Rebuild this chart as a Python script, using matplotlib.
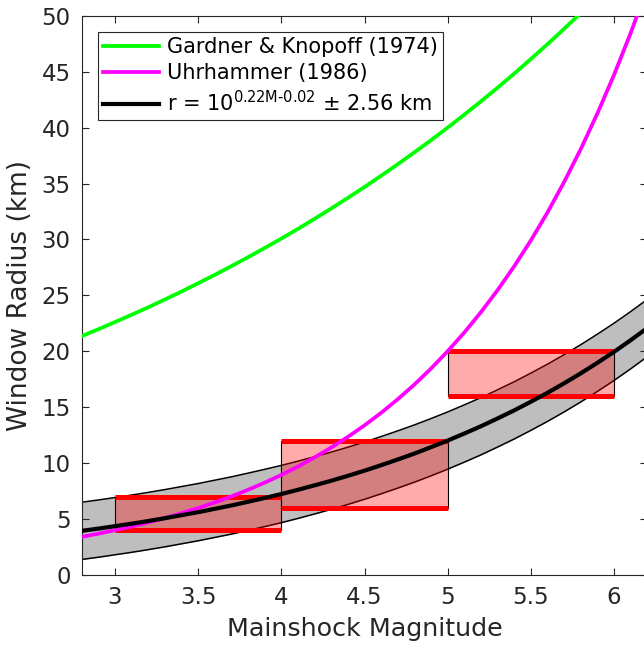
import numpy as np
import matplotlib
matplotlib.use("Agg")
import matplotlib.pyplot as plt
from matplotlib.patches import Rectangle

plt.rcParams['font.family'] = ['DejaVu Sans']
plt.rcParams['mathtext.fontset'] = 'dejavusans'

# magnitudes where the curves were read
mag = [2.8, 2.9, 3.0, 3.1, 3.2, 3.3, 3.4, 3.5, 3.6, 3.7, 3.8, 3.9, 4.0, 4.1, 4.2, 4.3,
       4.4, 4.5, 4.6, 4.7, 4.8, 4.9, 5.0, 5.1, 5.2, 5.3, 5.4, 5.5, 5.6, 5.7, 5.8, 5.9,
       6.0, 6.1, 6.2]

# Gardner & Knopoff (1974)
gk = [21.36, 21.98, 22.62, 23.27, 23.94, 24.64, 25.35, 26.09, 26.84, 27.62, 28.42,
      29.24, 30.08, 30.95, 31.85, 32.77, 33.72, 34.69, 35.70, 36.73, 37.79, 38.88,
      40.00, 41.16, 42.35, 43.57, 44.83, 46.13, 47.46, 48.83, 50.24, 51.70, 53.2,
      54.7, 56.3]

# Uhrhammer (1986)
uh = [3.41, 3.70, 4.01, 4.34, 4.71, 5.10, 5.53, 5.99, 6.49, 7.03, 7.62, 8.26, 8.95,
      9.70, 10.52, 11.40, 12.35, 13.38, 14.50, 15.72, 17.03, 18.46, 20.01, 21.68,
      23.50, 25.47, 27.60, 29.91, 32.41, 35.13, 38.07, 41.26, 44.70, 48.44, 52.50]

# fitted window radius
fit = [3.95, 4.15, 4.37, 4.59, 4.83, 5.08, 5.35, 5.62, 5.92, 6.22, 6.55, 6.89, 7.24,
       7.62, 8.02, 8.43, 8.87, 9.33, 9.82, 10.33, 10.86, 11.43, 12.02, 12.65, 13.30,
       14.00, 14.72, 15.49, 16.29, 17.14, 18.03, 18.97, 19.95, 20.99, 22.08]
fit_err = 2.56

# binned ranges (magnitude bin, radius range)
bin_lo = [3, 4, 5]
bin_hi = [4, 5, 6]
r_lo = [4, 6, 16]
r_hi = [7, 12, 20]

mag = np.array(mag)
fit = np.array(fit)

fig = plt.figure(figsize=(6.44, 6.45), dpi=100)
ax = fig.add_axes([0.127, 0.1085, 0.878, 0.867])

ax.fill_between(mag, fit - fit_err, fit + fit_err, color='#bebebe', lw=0, zorder=1)
ax.plot(mag, fit - fit_err, color='k', lw=1.1, zorder=2)
ax.plot(mag, fit + fit_err, color='k', lw=1.1, zorder=2)

for i in range(len(bin_lo)):
    ax.add_patch(Rectangle((bin_lo[i], r_lo[i]), bin_hi[i] - bin_lo[i], r_hi[i] - r_lo[i],
                           facecolor=(1, 0, 0, 0.33), edgecolor='k', lw=0.8, zorder=3))
    ax.plot([bin_lo[i], bin_hi[i]], [r_lo[i], r_lo[i]], color='r', lw=3.6, zorder=4,
            solid_capstyle='butt')
    ax.plot([bin_lo[i], bin_hi[i]], [r_hi[i], r_hi[i]], color='r', lw=3.6, zorder=4,
            solid_capstyle='butt')

ax.plot(mag, gk, color='#00ff00', lw=2.7, zorder=5, label='Gardner & Knopoff (1974)')
ax.plot(mag, uh, color='#ff00ff', lw=2.7, zorder=5, label='Uhrhammer (1986)')
ax.plot(mag, fit, color='k', lw=3, zorder=6,
        label=r'r = 10$^{\mathregular{0.22M\text{-}0.02}}$ $\pm$ 2.56 km')

ax.set_xlim(2.8, 6.2)
ax.set_ylim(0, 50)
ax.set_xticks([3, 3.5, 4, 4.5, 5, 5.5, 6])
ax.set_xticklabels(['3', '3.5', '4', '4.5', '5', '5.5', '6'])
ax.set_yticks(np.arange(0, 51, 5))
ax.tick_params(direction='in', length=5, width=0.8, labelsize=16.5, colors='#262626',
               top=True, right=True, pad=8)
for s in ax.spines.values():
    s.set_color('#262626')
    s.set_linewidth(0.8)

ax.set_xlabel('Mainshock Magnitude', fontsize=18.3, color='#262626', labelpad=6)
ax.set_ylabel('Window Radius (km)', fontsize=19, color='#262626', labelpad=6)

leg = ax.legend(loc='upper left', bbox_to_anchor=(0.028, 0.971), borderaxespad=0,
                fontsize=15, fancybox=False, framealpha=1, edgecolor='#262626',
                handlelength=2.7, borderpad=0.25, labelspacing=0.3, handletextpad=0.4)
leg.get_frame().set_linewidth(0.8)

fig.savefig('out.png', dpi=100)
